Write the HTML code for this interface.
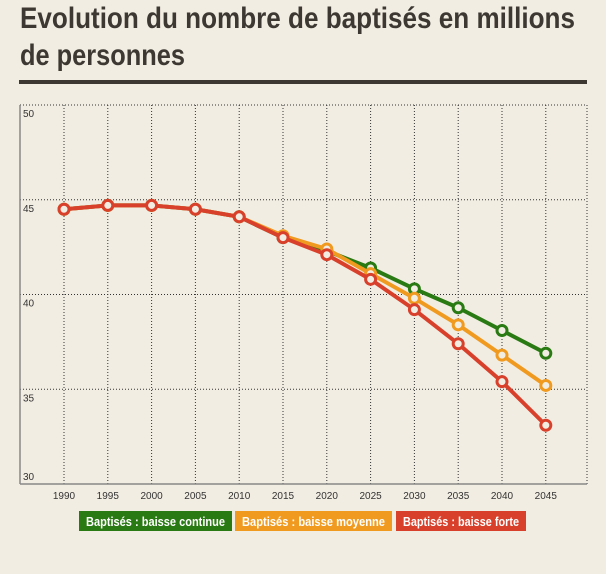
<!DOCTYPE html>
<html><head><meta charset="utf-8"><style>
body{margin:0;background:#f2ede3;}
svg{display:block;font-family:"Liberation Sans",sans-serif;}
</style></head><body>
<svg id="chart" width="606" height="574" viewBox="0 0 606 574">
<rect x="0" y="0" width="606" height="574" fill="#f2ede3"/>
<text x="20" y="28" font-size="30" font-weight="bold" fill="#3d3832" textLength="555" lengthAdjust="spacingAndGlyphs">Evolution du nombre de baptisés en millions</text>
<text x="20" y="65" font-size="30" font-weight="bold" fill="#3d3832" textLength="165" lengthAdjust="spacingAndGlyphs">de personnes</text>
<rect x="19" y="80" width="568" height="4" fill="#3d3832"/>
<g id="grid"></g>
<g id="axes"></g>
<g id="series"></g>
<g id="legend"></g>
</svg>
<script>
const years=[1990,1995,2000,2005,2010,2015,2020,2025,2030,2035,2040,2045];
const yTicks=[30,35,40,45,50];
const seriesNames=["Baptisés : baisse continue","Baptisés : baisse moyenne","Baptisés : baisse forte"];
const continueVals=[44.5,44.7,44.7,44.5,44.1,43.0,42.3,41.4,40.3,39.3,38.1,36.9];
const moyenneVals=[44.5,44.7,44.7,44.5,44.1,43.1,42.4,41.1,39.8,38.4,36.8,35.2];
const forteVals=[44.5,44.7,44.7,44.5,44.1,43.0,42.1,40.8,39.2,37.4,35.4,33.1];
const colors=["#2a7a13","#f09a20","#d9402b"];
const NS="http://www.w3.org/2000/svg";
const L=20,R=587,T=105,B=484;
function xs(yr){return 64+(yr-1990)/5*43.8;}
function ys(v){return B-(v-30)*(B-T)/20;}
function mk(tag,attrs,parent){const e=document.createElementNS(NS,tag);for(const k in attrs)e.setAttribute(k,attrs[k]);parent.appendChild(e);return e;}
const grid=document.getElementById('grid'),axes=document.getElementById('axes'),ser=document.getElementById('series'),leg=document.getElementById('legend');
years.forEach(y=>{
 const l=mk('line',{x1:xs(y),x2:xs(y),y1:T,y2:B,stroke:'#333','stroke-width':1,'stroke-dasharray':'1,2'},grid);
 
 
 const t=mk('text',{x:xs(y),y:B+15,'font-size':10,'text-anchor':'middle',fill:'#333'},axes);
 t.textContent=y;
 
 
});
const rl=mk('line',{x1:R,x2:R,y1:T,y2:B,stroke:'#333','stroke-width':1,'stroke-dasharray':'1,2'},grid);


yTicks.forEach(v=>{
 if(v>30){const l=mk('line',{x1:L,x2:R,y1:ys(v),y2:ys(v),stroke:'#333','stroke-width':1,'stroke-dasharray':'1,2'},grid);
 
 }
 const t=mk('text',{x:L+3,y:ys(v)+(v===30?-4:12),'font-size':10,fill:'#333'},axes);
 t.textContent=v;
 
 
});
const ya=mk('line',{x1:L,x2:L,y1:T,y2:B,stroke:'#888','stroke-width':1.5},axes);


const xa=mk('line',{x1:L,x2:R,y1:B,y2:B,stroke:'#888','stroke-width':1.5},axes);


[continueVals,moyenneVals,forteVals].forEach((vals,i)=>{
 const p=mk('polyline',{points:vals.map((v,j)=>xs(years[j])+','+ys(v)).join(' '),fill:'none',stroke:colors[i],'stroke-width':4,'stroke-linejoin':'round'},ser);
 
 
 vals.forEach((v,j)=>{
  const c=mk('circle',{cx:xs(years[j]),cy:ys(v),r:5,fill:'#f2ede3',stroke:colors[i],'stroke-width':3},ser);
  
  
 });
});
const lx=[79,235,396],lw=[153,157,130];
seriesNames.forEach((n,i)=>{
 const r=mk('rect',{x:lx[i],y:511,width:lw[i],height:20,fill:colors[i]},leg);
 
 
 const t=mk('text',{x:lx[i]+lw[i]/2,y:526,'font-size':13,'font-weight':'bold',fill:'#fff','text-anchor':'middle',textLength:lw[i]-14,lengthAdjust:'spacingAndGlyphs'},leg);
 t.textContent=n;
 
 
});
</script>
</body></html>
